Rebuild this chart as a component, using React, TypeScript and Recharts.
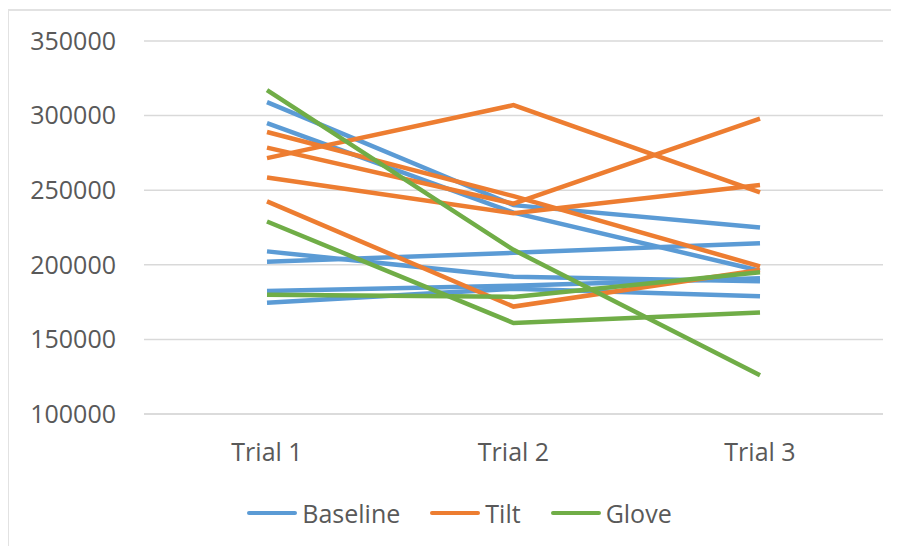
import React from 'react';
import { LineChart, Line, XAxis, YAxis, CartesianGrid, Legend } from 'recharts';

// Category labels along the x axis
const trials = ['Trial 1', 'Trial 2', 'Trial 3'];

// One row per participant, values for Trial 1..3
const baseline: number[][] = [
  [309000, 240000, 225000],
  [295000, 235000, 196000],
  [209000, 192000, 189000],
  [202000, 208000, 214500],
  [182500, 186000, 191000],
  [174500, 184000, 179000],
];

const tilt: number[][] = [
  [271500, 307000, 248500],
  [289000, 246000, 199000],
  [278500, 241000, 298000],
  [258500, 234500, 253500],
  [242500, 172000, 196500],
];

const glove: number[][] = [
  [317000, 210000, 126000],
  [229000, 161000, 168000],
  [180000, 178500, 195000],
];

const yTicks = [100000, 150000, 200000, 250000, 300000, 350000];

const groups = [
  { name: 'Baseline', key: 'b', color: '#5B9BD5', rows: baseline },
  { name: 'Tilt', key: 't', color: '#ED7D31', rows: tilt },
  { name: 'Glove', key: 'g', color: '#70AD47', rows: glove },
];

const data = trials.map((trial, i) => {
  const row: Record<string, string | number> = { trial };
  groups.forEach((g) => {
    g.rows.forEach((r, j) => {
      row[`${g.key}${j}`] = r[i];
    });
  });
  return row;
});

const FONT = '"Open Sans", sans-serif';
const TEXT = '#595959';

const LegendContent = () => (
  <div
    style={{
      display: 'flex',
      justifyContent: 'center',
      alignItems: 'center',
      fontFamily: FONT,
      fontSize: 25,
      color: TEXT,
    }}
  >
    {groups.map((g) => (
      <div key={g.name} style={{ display: 'flex', alignItems: 'center', margin: '0 15px' }}>
        <span
          style={{
            display: 'inline-block',
            width: 50,
            height: 4,
            background: g.color,
            borderRadius: 2,
            marginRight: 5,
          }}
        />
        <span>{g.name}</span>
      </div>
    ))}
  </div>
);

export default function App() {
  return (
    <div style={{ position: 'relative', width: 891, height: 538 }}>
      <div
        style={{
          position: 'absolute',
          left: -1,
          top: 1,
          right: 0,
          bottom: 0,
          borderTop: '2px solid #e2e2e2',
          borderLeft: '2px solid #e2e2e2',
          pointerEvents: 'none',
        }}
      />
      <LineChart
        width={891}
        height={538}
        data={data}
        margin={{ top: 33, right: 16, left: 0, bottom: 92 }}
      >
        <CartesianGrid vertical={false} stroke="#d9d9d9" strokeWidth={1.5} />
        <XAxis
          dataKey="trial"
          height={40}
          padding={{ left: 123, right: 123 }}
          axisLine={{ stroke: '#d9d9d9', strokeWidth: 1.5 }}
          tickLine={false}
          tickSize={0}
          tickMargin={29}
          tick={{ fill: TEXT, fontSize: 25, fontFamily: FONT }}
        />
        <YAxis
          width={136}
          domain={[100000, 350000]}
          ticks={yTicks}
          axisLine={false}
          tickLine={false}
          tickSize={0}
          tickMargin={28}
          tick={{ fill: TEXT, fontSize: 25, fontFamily: FONT }}
        />
        <Legend
          layout="horizontal"
          verticalAlign="middle"
          align="center"
          content={<LegendContent />}
          wrapperStyle={{ top: 488, left: 6, width: 891 }}
        />
        {groups.map((g) =>
          g.rows.map((_, j) => (
            <Line
              key={`${g.key}${j}`}
              dataKey={`${g.key}${j}`}
              name={g.name}
              stroke={g.color}
              strokeWidth={4.5}
              dot={false}
              activeDot={false}
              isAnimationActive={false}
            />
          ))
        )}
      </LineChart>
    </div>
  );
}
